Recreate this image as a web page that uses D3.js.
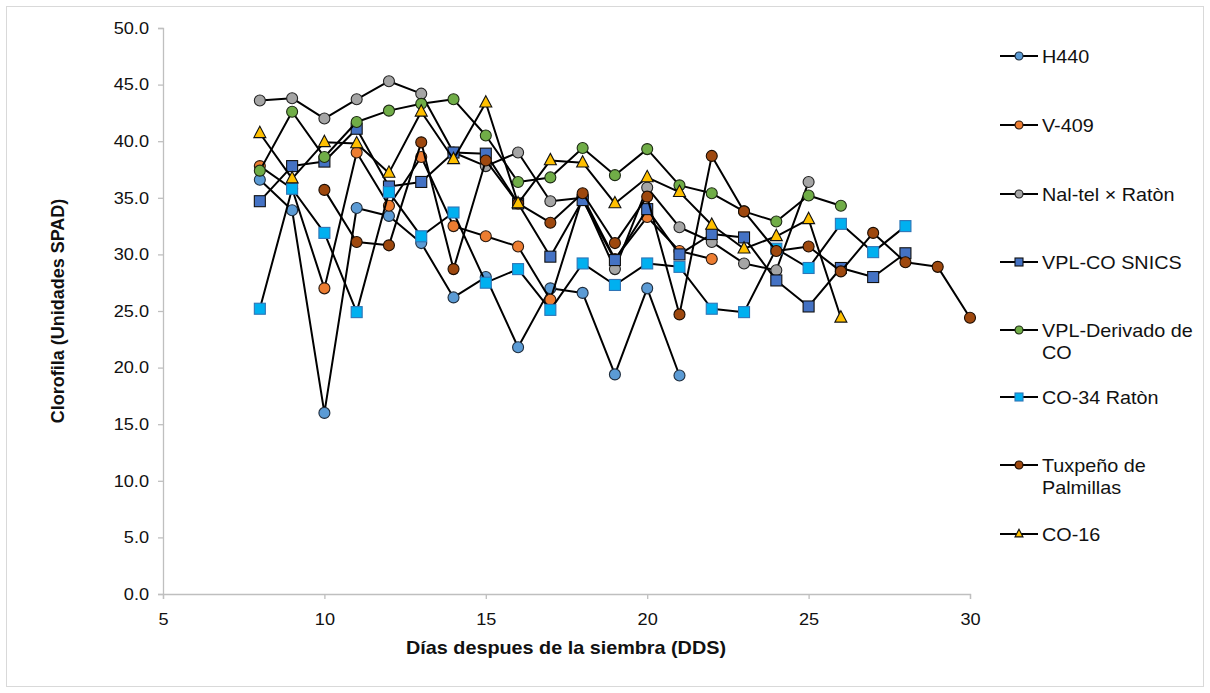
<!DOCTYPE html>
<html>
<head>
<meta charset="utf-8">
<script src="https://cdn.jsdelivr.net/npm/d3@7"></script>
<style>
  html, body { margin: 0; padding: 0; background: #fff; }
  svg { display: block; font-family: "Liberation Sans", Arial, sans-serif; }
</style>
</head>
<body>
<svg id="chart" width="1210" height="693"></svg>
<script>
// ---- data ----
const days = [8, 9, 10, 11, 12, 13, 14, 15, 16, 17, 18, 19, 20, 21, 22, 23, 24, 25, 26, 27, 28, 29, 30];
const seriesNames = ["H440", "V-409", "Nal-tel × Ratòn", "VPL-CO SNICS", "VPL-Derivado de CO", "CO-34 Ratòn", "Tuxpeño de Palmillas", "CO-16"];
const h440 =     [36.6, 33.9, 16.0, 34.1, 33.4, 31.0, 26.2, 28.0, 21.8, 27.0, 26.6, 19.4, 27.0, 19.3, null, null, null, null, null, null, null, null, null];
const v409 =     [37.8, 35.8, 27.0, 39.0, 34.3, 38.6, 32.5, 31.6, 30.7, 26.0, 35.1, 29.6, 33.3, 30.3, 29.6, null, null, null, null, null, null, null, null];
const naltel =   [43.6, 43.8, 42.0, 43.7, 45.3, 44.2, 39.0, 37.8, 39.0, 34.7, 35.0, 28.7, 35.9, 32.4, 31.1, 29.2, 28.6, 36.4, null, null, null, null, null];
const vplco =    [34.7, 37.8, 38.2, 41.1, 36.0, 36.4, 39.0, 38.9, 34.5, 29.8, 34.8, 29.5, 34.0, 30.0, 31.8, 31.5, 27.7, 25.4, 28.8, 28.0, 30.1, null, null];
const vplder =   [37.4, 42.6, 38.6, 41.7, 42.7, 43.3, 43.7, 40.5, 36.4, 36.8, 39.4, 37.0, 39.3, 36.1, 35.4, 33.8, 32.9, 35.2, 34.3, null, null, null, null];
const co34 =     [25.2, 35.8, 31.9, 24.9, 35.5, 31.6, 33.7, 27.5, 28.7, 25.1, 29.2, 27.3, 29.2, 28.9, 25.2, 24.9, 30.5, 28.8, 32.7, 30.2, 32.5, null, null];
const tuxpeno =  [null, null, 35.7, 31.1, 30.8, 39.9, 28.7, 38.3, 34.5, 32.8, 35.4, 31.0, 35.1, 24.7, 38.7, 33.8, 30.3, 30.7, 28.5, 31.9, 29.3, 28.9, 24.4];
const co16 =     [40.7, 36.7, 39.9, 39.8, 37.2, 42.6, 38.4, 43.4, 34.5, 38.3, 38.1, 34.5, 36.8, 35.5, 32.6, 30.5, 31.6, 33.1, 24.4, null, null, null, null];
const xTicks = [5, 10, 15, 20, 25, 30];
const yTicks = [0, 5, 10, 15, 20, 25, 30, 35, 40, 45, 50];

// ---- styles ----
const seriesValues = [h440, v409, naltel, vplco, vplder, co34, tuxpeno, co16];
const fills = ["#5B9BD5", "#ED7D31", "#A5A5A5", "#4472C4", "#70AD47", "#00B0F0", "#9E480E", "#FFC000"];
const strokes = ["#1f2d3d", "#2a1a10", "#222", "#111", "#1d2a14", "#2E75B6", "#1a0c02", "#111"];
const shapes = ["circle", "circle", "circle", "square", "circle", "square", "circle", "triangle"];
const legendLines = [["H440"], ["V-409"], ["Nal-tel × Ratòn"], ["VPL-CO SNICS"], ["VPL-Derivado de", "CO"], ["CO-34 Ratòn"], ["Tuxpeño de", "Palmillas"], ["CO-16"]];
const legendY = [56, 125, 194, 262, 330, 397, 465, 534];
const SX = 1.1; // horizontal glyph stretch seen in the reference

const svg = d3.select("#chart");
svg.append("rect").attr("x", 6.5).attr("y", 6.5).attr("width", 1197).attr("height", 680)
  .attr("fill", "#fff").attr("stroke", "#D9D9D9").attr("stroke-width", 1);

const x = d3.scaleLinear().domain([5, 30]).range([163, 970]);
const y = d3.scaleLinear().domain([0, 50]).range([594, 28]);

// axes
const yAxis = svg.append("g").attr("transform", "translate(163,0)")
  .call(d3.axisLeft(y).tickValues(yTicks).tickFormat(d3.format(".1f")).tickSize(5).tickPadding(9));
const xAxis = svg.append("g").attr("transform", "translate(0,594)")
  .call(d3.axisBottom(x).tickValues(xTicks).tickSize(5).tickPadding(14));
[yAxis, xAxis].forEach(g => {
  g.select(".domain").attr("stroke", "#BFBFBF").attr("stroke-width", 1.3);
  g.selectAll(".tick line").attr("stroke", "#BFBFBF").attr("stroke-width", 1.3);
  g.selectAll(".tick text").attr("fill", "#111").style("font-size", "16.5px")
    .style("font-family", "Liberation Sans, Arial, sans-serif");
});
yAxis.selectAll(".tick text").attr("x", -14 / SX).attr("transform", `scale(${SX},1)`);
xAxis.selectAll(".tick text").attr("transform", `scale(${SX},1)`);

// axis titles
svg.append("text").attr("transform", `translate(566,654) scale(${SX},1)`).attr("text-anchor", "middle")
  .style("font-size", "18px").style("font-weight", "bold").attr("fill", "#111")
  .text("Días despues de la siembra (DDS)");
svg.append("text").attr("transform", "translate(64,311) rotate(-90)").attr("text-anchor", "middle")
  .style("font-size", "18px").style("font-weight", "bold").attr("fill", "#111")
  .text("Clorofila (Unidades SPAD)");

function drawMarker(g, shape, cx, cy, size, fill, stroke) {
  if (shape === "circle") {
    g.append("circle").attr("cx", cx).attr("cy", cy).attr("r", size / 2)
      .attr("fill", fill).attr("stroke", stroke).attr("stroke-width", 1.1);
  } else if (shape === "square") {
    g.append("rect").attr("x", cx - size / 2).attr("y", cy - size / 2).attr("width", size).attr("height", size)
      .attr("fill", fill).attr("stroke", stroke).attr("stroke-width", 1.1);
  } else {
    const h = size * 0.95;
    g.append("path").attr("d", `M${cx},${cy - h * 0.62}L${cx + size / 2},${cy + h * 0.38}L${cx - size / 2},${cy + h * 0.38}Z`)
      .attr("fill", fill).attr("stroke", stroke).attr("stroke-width", 1.1);
  }
}

const line = d3.line().x(d => x(d.day)).y(d => y(d.v));
seriesValues.forEach((vals, i) => {
  const pts = days.map((d, k) => ({ day: d, v: vals[k] })).filter(p => p.v !== null);
  const g = svg.append("g");
  g.append("path").datum(pts).attr("d", line).attr("fill", "none")
    .attr("stroke", "#000").attr("stroke-width", 2).attr("stroke-linejoin", "round");
  pts.forEach(p => drawMarker(g, shapes[i], x(p.day), y(p.v), shapes[i] === "triangle" ? 12 : 11, fills[i], strokes[i]));
});

// legend
const lg = svg.append("g");
seriesNames.forEach((name, i) => {
  const ly = legendY[i];
  lg.append("line").attr("x1", 1000).attr("x2", 1038).attr("y1", ly).attr("y2", ly)
    .attr("stroke", "#000").attr("stroke-width", 1.8);
  drawMarker(lg, shapes[i], 1019, ly, 8, fills[i], strokes[i]);
  legendLines[i].forEach((t, j) => {
    lg.append("text").attr("transform", `translate(1042,${ly + 6.5 + j * 22}) scale(${SX},1)`)
      .style("font-size", "18px").attr("fill", "#111").text(t);
  });
});
</script>
</body>
</html>
